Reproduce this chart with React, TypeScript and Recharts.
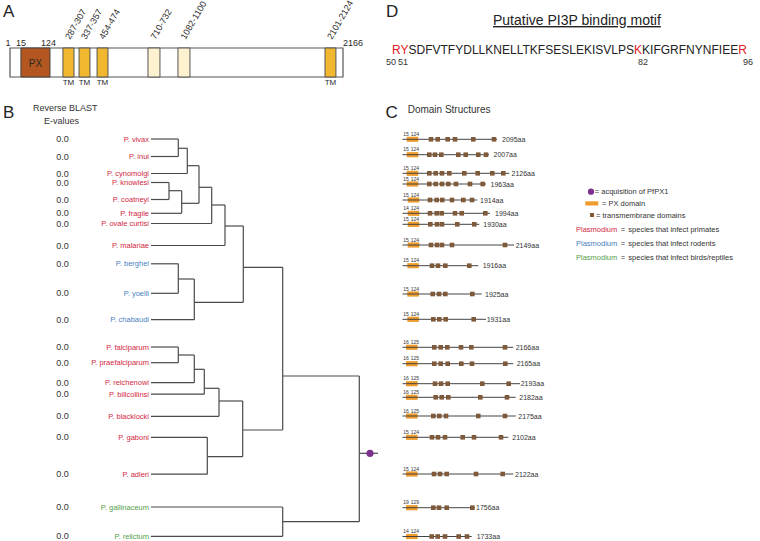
import React from 'react';
import { ComposedChart, XAxis, YAxis, Scatter, ReferenceArea, ReferenceLine, Legend } from 'recharts';

const FONT = '"Liberation Sans", Arial, Helvetica, sans-serif';

// ---------------- Panel A : PfPX1 schematic ----------------
const proteinLength = 2166;
const pxDisplaySpan = [72, 261]; // schematic (not to scale) placement
const pxSpanLabels = ['15', '124'];
const segmentLabels = ['287-307', '337-357', '454-474', '710-732', '1082-1100', '2101-2124'];
const segmentStart = [345, 450, 567, 898, 1093, 2049];
const segmentEnd = [417, 521, 638, 976, 1171, 2120];
const segmentIsTM = [true, true, true, false, false, true];

// ---------------- Panel B : tree ----------------
const species = [
  'P. vivax', 'P. inui', 'P. cynomolgi', 'P. knowlesi', 'P. coatneyi', 'P. fragile', 'P. ovale curtisi',
  'P. malariae', 'P. berghei', 'P. yoelli', 'P. chabaudi', 'P. falciparum', 'P. praefalciparum',
  'P. reichenowi', 'P. billcollinsi', 'P. blacklocki', 'P. gaboni', 'P. adleri', 'P. gallinaceum', 'P. relictum',
];
const hostGroup = [
  'primate', 'primate', 'primate', 'primate', 'primate', 'primate', 'primate', 'primate',
  'rodent', 'rodent', 'rodent',
  'primate', 'primate', 'primate', 'primate', 'primate', 'primate', 'primate',
  'bird', 'bird',
];
const eValues = ['0.0', '0.0', '0.0', '0.0', '0.0', '0.0', '0.0', '0.0', '0.0', '0.0', '0.0', '0.0', '0.0', '0.0', '0.0', '0.0', '0.0', '0.0', '0.0', '0.0'];
const treeRowPos = [139, 156.5, 173.5, 182.5, 199.5, 213.3, 223.5, 245.5, 263.8, 293.3, 319.7, 347, 362.7, 382.7, 394.2, 416.3, 437.3, 474.2, 507, 536.3];

const treeNodes = [
  { id: 'vi', depth: 27.3, pos: 148.3, children: ['P. vivax', 'P. inui'] },
  { id: 'vic', depth: 36.3, pos: 165.7, children: ['vi', 'P. cynomolgi'] },
  { id: 'kc', depth: 18, pos: 190.7, children: ['P. knowlesi', 'P. coatneyi'] },
  { id: 'kcf', depth: 30.7, pos: 203.3, children: ['kc', 'P. fragile'] },
  { id: 'asian', depth: 48, pos: 187.3, children: ['vic', 'kcf'] },
  { id: 'ovl', depth: 60.7, pos: 205, children: ['asian', 'P. ovale curtisi'] },
  { id: 'mal', depth: 74, pos: 226, children: ['ovl', 'P. malariae'] },
  { id: 'by', depth: 27.3, pos: 279, children: ['P. berghei', 'P. yoelli'] },
  { id: 'rod', depth: 43.3, pos: 302.3, children: ['by', 'P. chabaudi'] },
  { id: 'plas', depth: 92.3, pos: 267.3, children: ['mal', 'rod'] },
  { id: 'fp', depth: 27.3, pos: 355, children: ['P. falciparum', 'P. praefalciparum'] },
  { id: 'fpr', depth: 43.3, pos: 369.3, children: ['fp', 'P. reichenowi'] },
  { id: 'fprb', depth: 53.3, pos: 388.3, children: ['fpr', 'P. billcollinsi'] },
  { id: 'lav', depth: 68, pos: 401, children: ['fprb', 'P. blacklocki'] },
  { id: 'ga', depth: 56.3, pos: 456.7, children: ['P. gaboni', 'P. adleri'] },
  { id: 'lav2', depth: 91.7, pos: 430, children: ['lav', 'ga'] },
  { id: 'mamm', depth: 131.7, pos: 376, children: ['plas', 'lav2'] },
  { id: 'avian', depth: 131.7, pos: 521.7, children: ['P. gallinaceum', 'P. relictum'] },
  { id: 'root', depth: 208.3, pos: 453.3, children: ['mamm', 'avian'] },
];
const rootStemEnd = 227;
const acquisitionDepth = 219;

// ---------------- Panel C : domain structures ----------------
const domainRowPos = [139.3, 154.7, 173.3, 184, 200, 213.3, 224.3, 245, 265.7, 294, 319.3, 347.3, 363.7, 383.7, 397.3, 416, 437.3, 474, 507.7, 536.5];
const proteinLengthLabels = ['2095aa', '2007aa', '2126aa', '1963aa', '1914aa', '1994aa', '1930aa', '2149aa', '1916aa', '1925aa', '1931aa', '2166aa', '2165aa', '2193aa', '2182aa', '2175aa', '2102aa', '2122aa', '1756aa', '1733aa'];
const pxStartLabels = ['15', '15', '15', '15', '15', '14', '15', '15', '15', '15', '15', '16', '16', '16', '16', '16', '15', '15', '19', '14'];
const pxEndLabels = ['124', '124', '124', '124', '124', '124', '124', '124', '124', '124', '124', '125', '125', '125', '125', '125', '124', '124', '129', '124'];
const pxBoxStart = [6.7, 6.7, 6.7, 6.7, 7.7, 7.7, 7.7, 7.7, 7.3, 7.3, 7.3, 6, 6, 6, 6, 6, 6, 6, 6, 6];
const pxBoxWidth = 11.6;
const lineStart = 2.5;
const lineEnd = [97, 89, 109.3, 86, 77.3, 90, 79.3, 114, 78.3, 81.7, 86, 113.3, 113.3, 120, 115.7, 115.7, 108.3, 113.3, 75, 71.7];
const lengthLabelX = [102, 93.5, 111.5, 90.5, 80, 95, 83.3, 115.7, 82.7, 85, 86.7, 115.7, 116.7, 120.7, 119.3, 118.3, 112.3, 115, 76, 76.7];
const tmPositions = [
  [31, 37.7, 47.7, 55, 73.3, 94],
  [29.3, 35, 41.3, 58.3, 65.7, 78.3, 86],
  [29.3, 35.7, 42, 49.3, 64.3, 77.7, 92.3, 103.3],
  [29.3, 35.7, 42, 48.3, 56, 70, 82.7],
  [30, 36.7, 42.3, 52, 63.3, 72],
  [30, 36.7, 41.7, 55, 61.7, 85.3],
  [30.3, 37, 42, 57.3, 74.3],
  [31, 37, 42, 52, 105],
  [32, 38, 45.3, 69.3],
  [32.7, 39, 45.3, 72.3],
  [33.3, 39.3, 45.7, 73.7],
  [34.3, 40.7, 47.3, 61, 71.3, 105],
  [34.3, 40.7, 47.7, 61.3, 72, 105.3],
  [35, 41, 47.7, 82.3, 108.7],
  [35.7, 41.7, 48.3, 80.3, 107],
  [33.3, 39.3, 46, 78.3, 105],
  [32, 38, 45, 62.7, 74, 101],
  [34, 40, 46.7, 76, 102.7],
  [33.3, 39, 46.7, 72.3],
  [31.7, 37.7, 45, 58.7, 67],
];

// ---------------- Panel D : motif ----------------
const motifTitle = 'Putative PI3P binding motif';
const motifSequence = 'RYSDFVTFYDLLKNELLTKFSESLEKISVLPSKKIFGRFNYNFIEER';
const motifFirstResidue = 50;
const motifHighlighted = [50, 51, 82, 96];
const motifNumberLabels = ['50', '51', '82', '96'];
const motifNumberX = [386, 398, 638, 743];

// ---------------- Legend ----------------
const hostGroupNames = ['primate', 'rodent', 'bird'];
const hostGroupText = ['species that infect primates', 'species that infect rodents', 'species that infect birds/reptiles'];

// ---------------- colours ----------------
const GROUP_COLOR: Record<string, string> = { primate: '#D2283F', rodent: '#4B7FC2', bird: '#55A04A' };
const PX_BROWN = '#B4561F';
const TM_YELLOW = '#F1B82F';
const LIGHT_YELLOW = '#FDF1D0';
const PX_ORANGE = '#EF9C2C';
const TM_BROWN = '#7E5A3A';
const PURPLE = '#7B2F8F';
const TREE_LINE = '#4a4a4a';

type TextOpts = { dx?: number; dy?: number; anchor?: 'start' | 'middle' | 'end'; size: number; color?: string; rotate?: number; baseline?: string };
const textShape = (o: TextOpts) => (p: any) => {
  const x = p.cx + (o.dx ?? 0);
  const y = p.cy + (o.dy ?? 0);
  return (
    <text
      x={x}
      y={y}
      textAnchor={o.anchor ?? 'start'}
      dominantBaseline={o.baseline ?? 'central'}
      fontSize={o.size}
      fill={p.payload.color ?? o.color ?? '#2a2a2a'}
      fontFamily={FONT}
      transform={o.rotate ? `rotate(${o.rotate} ${x} ${y})` : undefined}
    >
      {p.payload.text}
    </text>
  );
};

function PanelA() {
  const barTop = 48;
  const barBottom = 77;
  const topNums = [
    { x: 1, y: 42.7, text: '1', dx: -2 },
    { x: pxDisplaySpan[0], y: 42.7, text: pxSpanLabels[0], dx: 0 },
    { x: pxDisplaySpan[1], y: 42.7, text: pxSpanLabels[1], dx: -1.5 },
  ];
  const endNum = [{ x: proteinLength, y: 42.7, text: String(proteinLength) }];
  const rotated = segmentLabels.map((t, i) => ({ x: (segmentStart[i] + segmentEnd[i]) / 2, y: 40, text: t }));
  const tmLabels = segmentLabels
    .map((_, i) => ({ x: (segmentStart[i] + segmentEnd[i]) / 2, y: 82, text: 'TM', tm: segmentIsTM[i] }))
    .filter((d) => d.tm);
  const pxText = [{ x: (pxDisplaySpan[0] + pxDisplaySpan[1]) / 2, y: 63, text: 'PX' }];
  return (
    <ComposedChart width={380} height={100} margin={{ top: 0, right: 37, bottom: 0, left: 10 }}>
      <XAxis type="number" dataKey="x" domain={[1, proteinLength]} hide />
      <YAxis type="number" dataKey="y" domain={[0, 100]} reversed hide />
      <ReferenceArea x1={1} x2={proteinLength} y1={barTop} y2={barBottom} fill="#fff" fillOpacity={1} stroke="#555" strokeWidth={1.2} ifOverflow="visible" />
      <ReferenceArea x1={pxDisplaySpan[0]} x2={pxDisplaySpan[1]} y1={barTop} y2={barBottom} fill={PX_BROWN} fillOpacity={1} stroke="#444" strokeWidth={1} ifOverflow="visible" />
      {segmentLabels.map((l, i) => (
        <ReferenceArea key={l} x1={segmentStart[i]} x2={segmentEnd[i]} y1={barTop} y2={barBottom} fill={segmentIsTM[i] ? TM_YELLOW : LIGHT_YELLOW} fillOpacity={1} stroke="#555" strokeWidth={1} ifOverflow="visible" />
      ))}
      <Scatter data={topNums} isAnimationActive={false} shape={(p: any) => (
        <text x={p.cx + p.payload.dx} y={p.cy} textAnchor="middle" dominantBaseline="central" fontSize={9} fill="#2a2a2a" fontFamily={FONT}>{p.payload.text}</text>
      )} />
      <Scatter data={endNum} isAnimationActive={false} shape={textShape({ size: 9, anchor: 'start', dx: 0 })} />
      <Scatter data={rotated} isAnimationActive={false} shape={textShape({ size: 9, anchor: 'start', dx: 1.5, rotate: -60, baseline: 'alphabetic' })} />
      <Scatter data={tmLabels} isAnimationActive={false} shape={textShape({ size: 8, anchor: 'middle' })} />
      <Scatter data={pxText} isAnimationActive={false} shape={textShape({ size: 10, anchor: 'middle', color: '#2a2a2a' })} />
    </ComposedChart>
  );
}

function PanelB() {
  const posOf: Record<string, { depth: number; pos: number }> = {};
  species.forEach((s, i) => (posOf[s] = { depth: 0, pos: treeRowPos[i] }));
  treeNodes.forEach((n) => (posOf[n.id] = { depth: n.depth, pos: n.pos }));
  const segs: { x1: number; y1: number; x2: number; y2: number }[] = [];
  treeNodes.forEach((n) => {
    const kids = n.children.map((c) => posOf[c]);
    kids.forEach((k) => segs.push({ x1: k.depth, y1: k.pos, x2: n.depth, y2: k.pos }));
    const ys = kids.map((k) => k.pos);
    segs.push({ x1: n.depth, y1: Math.min(...ys), x2: n.depth, y2: Math.max(...ys) });
  });
  const root = posOf['root'];
  segs.push({ x1: root.depth, y1: root.pos, x2: rootStemEnd, y2: root.pos });
  const labels = species.map((s, i) => ({ x: 0, y: treeRowPos[i], text: s, color: GROUP_COLOR[hostGroup[i]] }));
  const evals = eValues.map((e, i) => ({ x: 0, y: treeRowPos[i], text: e }));
  const dot = [{ x: acquisitionDepth, y: root.pos }];
  return (
    <ComposedChart width={400} height={541} margin={{ top: 0, right: 19, bottom: 0, left: 151 }}>
      <XAxis type="number" dataKey="x" domain={[0, 230]} hide />
      <YAxis type="number" dataKey="y" domain={[0, 541]} reversed hide />
      {segs.map((s, i) => (
        <ReferenceLine key={i} segment={[{ x: s.x1, y: s.y1 }, { x: s.x2, y: s.y2 }]} stroke={TREE_LINE} strokeWidth={1.2} ifOverflow="visible" />
      ))}
      <Scatter data={labels} isAnimationActive={false} shape={textShape({ size: 7.5, anchor: 'end', dx: -2 })} />
      <Scatter data={evals} isAnimationActive={false} shape={textShape({ size: 9, anchor: 'middle', dx: -88.5, color: '#333' })} />
      <Scatter data={dot} isAnimationActive={false} shape={(p: any) => <circle cx={p.cx} cy={p.cy} r={3.6} fill={PURPLE} />} />
    </ComposedChart>
  );
}

function LegendBox() {
  return (
    <svg width={190} height={80} style={{ display: 'block', overflow: 'visible' }}>
      <g fontFamily={FONT} fontSize={7.5} fill="#333">
        <circle cx={16} cy={6.7} r={3.1} fill={PURPLE} />
        <text x={19.8} y={6.7} dominantBaseline="central">= acquisition of PfPX1</text>
        <rect x={10.3} y={16.3} width={13} height={4.2} fill={PX_ORANGE} />
        <text x={27} y={18.4} dominantBaseline="central">= PX domain</text>
        <rect x={15} y={28} width={4} height={4} fill={TM_BROWN} />
        <text x={21} y={30} dominantBaseline="central">= transmembrane domains</text>
        {hostGroupNames.map((g, i) => (
          <g key={g}>
            <text x={1} y={44 + i * 14.2} dominantBaseline="central" fill={GROUP_COLOR[g]}>Plasmodium</text>
            <text x={45.7} y={44 + i * 14.2} dominantBaseline="central">=</text>
            <text x={53.3} y={44 + i * 14.2} dominantBaseline="central">{hostGroupText[i]}</text>
          </g>
        ))}
      </g>
    </svg>
  );
}

function PanelC() {
  const tms = tmPositions.flatMap((row, i) => row.map((x) => ({ x, y: domainRowPos[i] })));
  const lenLabels = proteinLengthLabels.map((t, i) => ({ x: lengthLabelX[i], y: domainRowPos[i], text: t }));
  const startLabs = pxStartLabels.map((t, i) => ({ x: 3.3, y: domainRowPos[i] - 5.3, text: t }));
  const endLabs = pxEndLabels.map((t, i) => ({ x: 10.7, y: domainRowPos[i] - 5.3, text: t }));
  return (
    <ComposedChart width={380} height={541} margin={{ top: 0, right: 235, bottom: 0, left: 20 }}>
      <XAxis type="number" dataKey="x" domain={[0, 125]} hide />
      <YAxis type="number" dataKey="y" domain={[0, 541]} reversed hide />
      {domainRowPos.map((y, i) => (
        <ReferenceLine key={'l' + i} segment={[{ x: lineStart, y }, { x: lineEnd[i], y }]} stroke="#444" strokeWidth={1} ifOverflow="visible" />
      ))}
      {domainRowPos.map((y, i) => (
        <ReferenceArea key={'p' + i} x1={pxBoxStart[i]} x2={pxBoxStart[i] + pxBoxWidth} y1={y - 2.6} y2={y + 2.6} fill={PX_ORANGE} fillOpacity={1} stroke="none" ifOverflow="visible" />
      ))}
      <Scatter data={tms} isAnimationActive={false} shape={(p: any) => <rect x={p.cx - 2.3} y={p.cy - 2.3} width={4.6} height={4.6} fill={TM_BROWN} />} />
      <Scatter data={lenLabels} isAnimationActive={false} shape={textShape({ size: 7, anchor: 'start', color: '#333' })} />
      <Scatter data={startLabs} isAnimationActive={false} shape={textShape({ size: 5, anchor: 'start', color: '#333' })} />
      <Scatter data={endLabs} isAnimationActive={false} shape={textShape({ size: 5, anchor: 'start', color: '#333' })} />
      <Legend
        layout="horizontal"
        verticalAlign="middle"
        align="center"
        content={() => <LegendBox />}
        wrapperStyle={{ position: 'absolute', left: 195, top: 185, width: 190, height: 80 }}
      />
    </ComposedChart>
  );
}

function Overlay() {
  const residues = motifSequence.split('');
  return (
    <svg width={760} height={541} style={{ position: 'absolute', left: 0, top: 0, pointerEvents: 'none' }}>
      <g fontFamily={FONT} fill="#222">
        <text x={3} y={16.7} fontSize={17}>A</text>
        <text x={3} y={118} fontSize={17}>B</text>
        <text x={385.5} y={117.5} fontSize={17}>C</text>
        <text x={386} y={17} fontSize={17}>D</text>
        <text x={33} y={111.3} fontSize={9} fill="#333">Reverse BLAST</text>
        <text x={44} y={124.3} fontSize={9} fill="#333">E-values</text>
        <text x={407.7} y={113} fontSize={10} fill="#333">Domain Structures</text>
        <text x={493} y={25} fontSize={14} style={{ textDecoration: 'underline' }}>{motifTitle}</text>
        <text x={392} y={54.3} fontSize={12}>
          {residues.map((r, i) => (
            <tspan key={i} fill={motifHighlighted.includes(motifFirstResidue + i) ? '#E0201E' : '#222'}>{r}</tspan>
          ))}
        </text>
        {motifNumberLabels.map((t, i) => (
          <text key={t} x={motifNumberX[i]} y={65} fontSize={9} fill="#333">{t}</text>
        ))}
      </g>
    </svg>
  );
}

export default function App() {
  return (
    <div style={{ position: 'absolute', left: 0, top: 0, width: 760, height: 541, background: '#fff', overflow: 'hidden' }}>
      <div style={{ position: 'absolute', left: 0, top: 0 }}>
        <PanelA />
      </div>
      <div style={{ position: 'absolute', left: 0, top: 0 }}>
        <PanelB />
      </div>
      <div style={{ position: 'absolute', left: 380, top: 0 }}>
        <PanelC />
      </div>
      <Overlay />
    </div>
  );
}
